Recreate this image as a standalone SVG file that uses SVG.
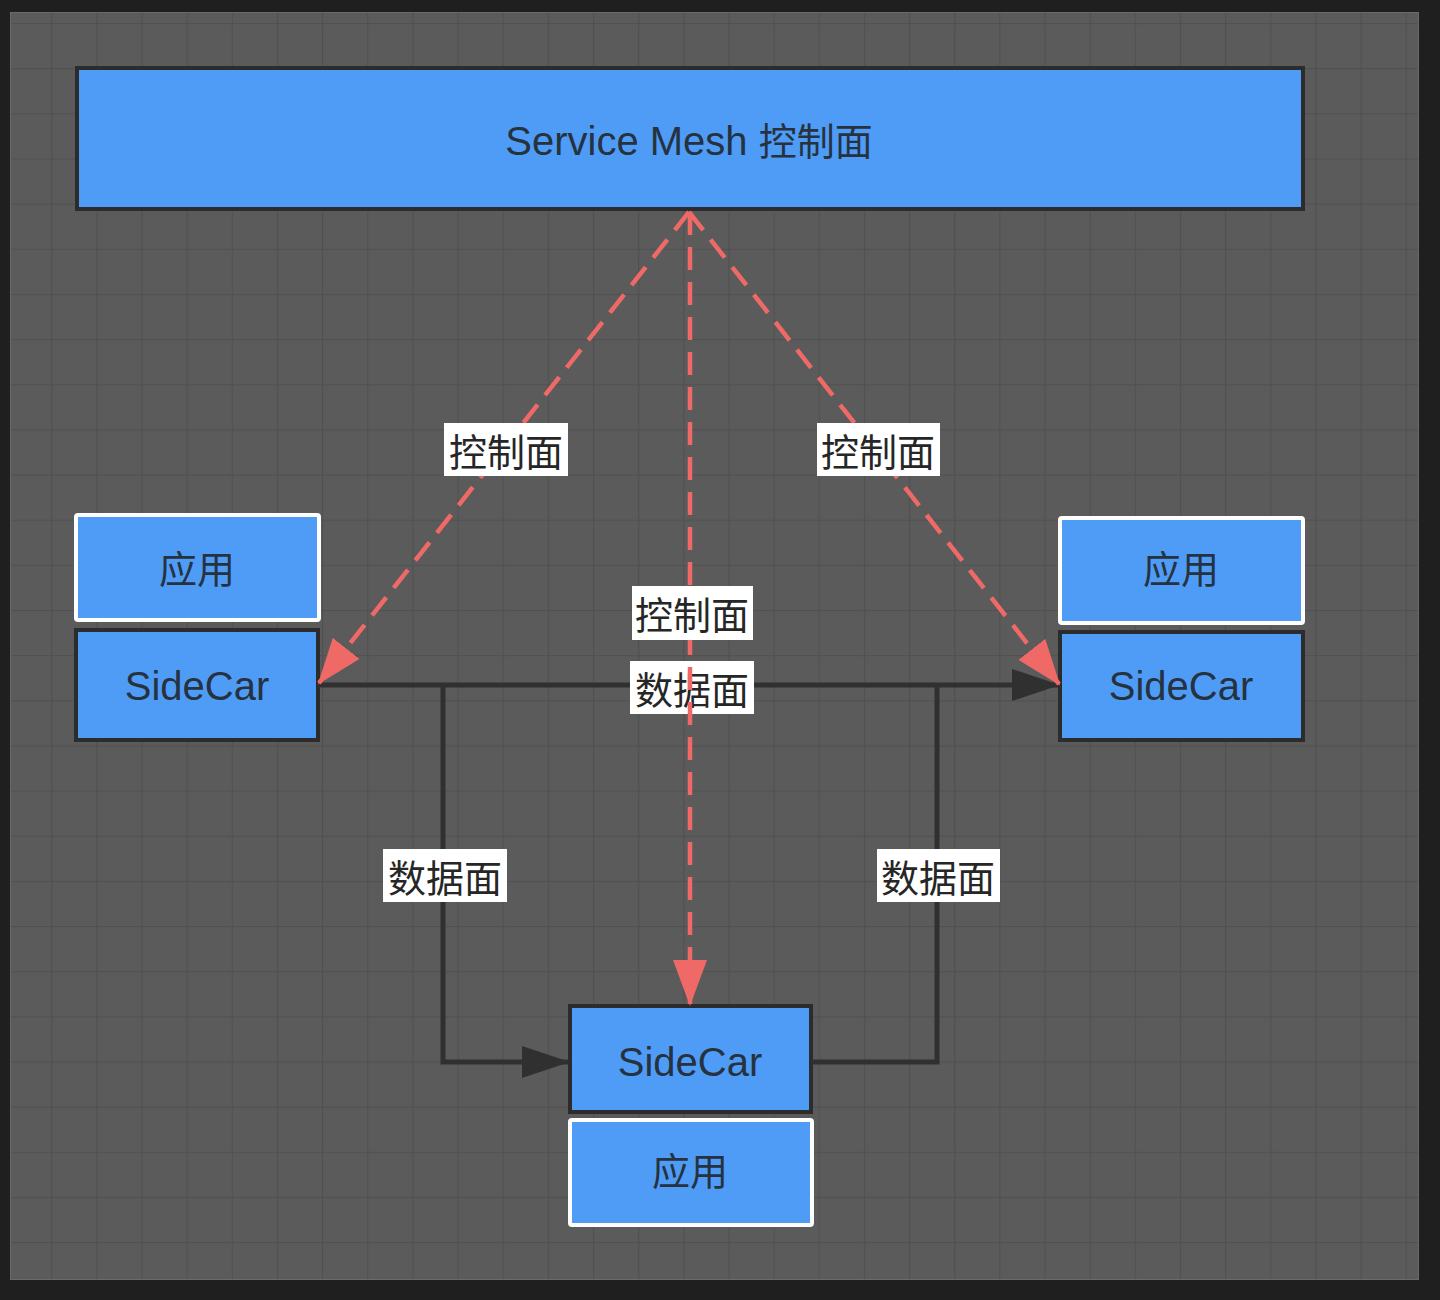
<svg xmlns="http://www.w3.org/2000/svg" width="1440" height="1300" viewBox="0 0 1440 1300">
<defs>
<pattern id="grid" x="6" y="23" width="45.15" height="45.15" patternUnits="userSpaceOnUse">
<path d="M0,0 L0,45.15 M0,0 L45.15,0" stroke="#515151" stroke-width="2.5" fill="none"/>
</pattern>
<marker id="arrRed" markerUnits="userSpaceOnUse" markerWidth="46" markerHeight="34" refX="44" refY="17" orient="auto" viewBox="0 0 46 34">
<path d="M0,0 L46,17 L0,34 Z" fill="#ef6a66"/>
</marker>
<marker id="arrBlack" markerUnits="userSpaceOnUse" markerWidth="48" markerHeight="32" refX="46" refY="16" orient="auto" viewBox="0 0 48 32">
<path d="M0,0 L48,16 L0,32 Z" fill="#303030"/>
</marker>
</defs>
<style>
.node{fill:#4f9cf6;stroke:#2c2c2c;stroke-width:4}
.app{fill:#4f9cf6;stroke:#ffffff;stroke-width:4}
.t{font-family:"Liberation Sans","Noto Sans CJK SC",sans-serif;font-size:40px;fill:#26323f;text-anchor:middle}
.c{font-family:"Noto Sans CJK SC","Liberation Sans",sans-serif;font-size:38px;fill:#26323f;text-anchor:middle}
.lb{fill:#ffffff}
.lt{font-family:"Noto Sans CJK SC","Liberation Sans",sans-serif;font-size:38px;fill:#262626;text-anchor:middle;dominant-baseline:central}
.data{fill:none;stroke:#303030;stroke-width:5}
.ctrl{fill:none;stroke:#ef6a66;stroke-width:4.5;stroke-dasharray:23 12}
</style>
<rect x="0" y="0" width="1440" height="1300" fill="#1f1f1f"/>
<rect x="10" y="12" width="1409" height="1268" fill="#5b5b5b"/>
<rect x="10" y="12" width="1409" height="1268" fill="url(#grid)"/>
<rect x="10.5" y="12.5" width="1408" height="1267" fill="none" stroke="#6a6a6a" stroke-width="1"/>

<g id="control-plane">
<rect class="node" x="77" y="68" width="1226" height="141"/>
<text class="t" x="689" y="155">Service Mesh <tspan font-family="Noto Sans CJK SC, sans-serif" font-size="38">控制面</tspan></text>
</g>
<g id="app-left">
<rect class="app" x="76" y="515" width="243" height="105" rx="2"/>
<text class="c" x="197" y="583">应用</text>
</g>
<g id="sidecar-left">
<rect class="node" x="76" y="630" width="242" height="110"/>
<text class="t" x="197" y="700">SideCar</text>
</g>
<g id="app-right">
<rect class="app" x="1060" y="518" width="243" height="105" rx="2"/>
<text class="c" x="1181" y="583">应用</text>
</g>
<g id="sidecar-right">
<rect class="node" x="1060" y="632" width="243" height="108"/>
<text class="t" x="1181" y="700">SideCar</text>
</g>
<g id="sidecar-bottom">
<rect class="node" x="570" y="1006" width="241" height="106"/>
<text class="t" x="690" y="1076">SideCar</text>
</g>
<g id="app-bottom">
<rect class="app" x="570" y="1120" width="242" height="105" rx="2"/>
<text class="c" x="690" y="1185">应用</text>
</g>

<g id="connectors">
<path class="data" d="M318,685 L1058,685" marker-end="url(#arrBlack)"/>
<path class="data" d="M443,685 L443,1062 L568,1062" marker-end="url(#arrBlack)"/>
<path class="data" d="M811,1062 L937,1062 L937,685"/>
<rect class="lb" x="383" y="849" width="124" height="53"/>
<text class="lt" x="445" y="875">数据面</text>
<rect class="lb" x="877" y="849" width="123" height="53"/>
<text class="lt" x="938" y="875">数据面</text>
<rect class="lb" x="630" y="661" width="124" height="53"/>
<text class="lt" x="692" y="687">数据面</text>

<path class="ctrl" d="M689,212 L319,683" marker-end="url(#arrRed)"/>
<path class="ctrl" d="M689,212 L1059,684" marker-end="url(#arrRed)"/>
<path class="ctrl" d="M690,212 L690,1004" marker-end="url(#arrRed)"/>
<rect class="lb" x="444" y="423" width="124" height="53"/>
<text class="lt" x="506" y="449">控制面</text>
<rect class="lb" x="817" y="423" width="123" height="53"/>
<text class="lt" x="878" y="449">控制面</text>
<rect class="lb" x="632" y="586" width="121" height="54"/>
<text class="lt" x="692" y="612">控制面</text>
</g>
</svg>
